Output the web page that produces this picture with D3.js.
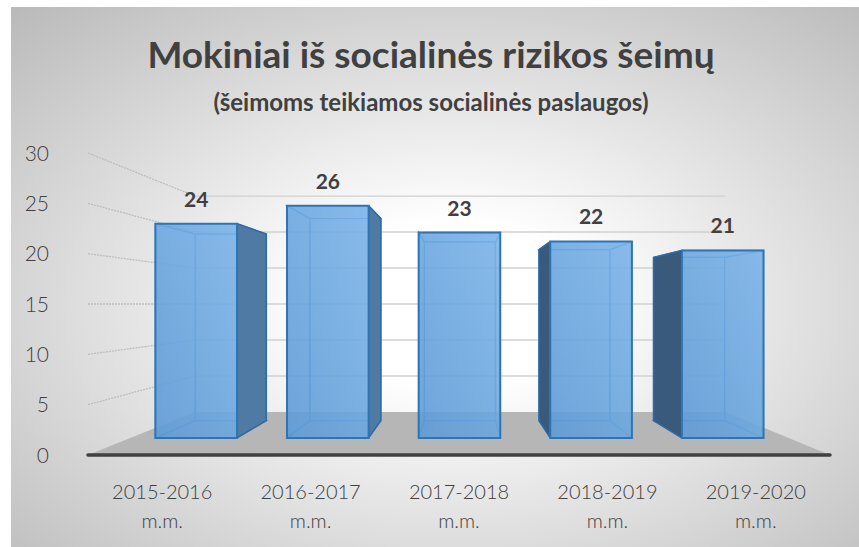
<!DOCTYPE html>
<html>
<head>
<meta charset="utf-8">
<script src="https://cdn.jsdelivr.net/npm/d3@7"></script>
<style>
  body { margin: 0; background: #fff; }
  svg { display: block; }
  text { font-family: Lato, "Open Sans", sans-serif; fill: #404040; }
</style>
</head>
<body>
<div id="chart"></div>
<script>
const categories = ["2015-2016", "2016-2017", "2017-2018", "2018-2019", "2019-2020"];
const categorySuffix = "m.m.";
const values = [24, 26, 23, 22, 21];
const yTicks = [0, 5, 10, 15, 20, 25, 30];
const titleText = "Mokiniai iš socialinės rizikos šeimų";
const subtitleText = "(šeimoms teikiamos socialinės paslaugos)";

const width = 859;
const height = 547;
// perspective: vanishing point and scale factors for each depth plane
const vp = [463, 304];
const sFloorFront = 1;
const sFloorBack = 0.715;
const sBarFront = 0.887;
const sBarBack = 0.772;

const x = d3
  .scaleBand()
  .domain(categories)
  .range([88, 830])
  .paddingInner(0.38)
  .paddingOuter(0.19);
const y = d3.scaleLinear().domain([0, 30]).range([455, 153]);

function project(px, py, s) {
  return [vp[0] + (px - vp[0]) * s, vp[1] + (py - vp[1]) * s];
}
function quad(pts) {
  return "M" + pts.map((p) => project(p[0], p[1], p[2]).join(",")).join("L") + "Z";
}

const svg = d3
  .select("#chart")
  .append("svg")
  .attr("width", width)
  .attr("height", height);

const defs = svg.append("defs");
const bg = defs
  .append("radialGradient")
  .attr("id", "bg")
  .attr("cx", "0.52")
  .attr("cy", "0.55")
  .attr("r", "0.75");
bg.append("stop").attr("offset", 0).attr("stop-color", "#ffffff");
bg.append("stop").attr("offset", 0.2).attr("stop-color", "#ffffff");
bg.append("stop").attr("offset", 1).attr("stop-color", "#bababa");

const front = defs
  .append("linearGradient")
  .attr("id", "front")
  .attr("x1", 0)
  .attr("y1", 1)
  .attr("x2", 1)
  .attr("y2", 0);
front.append("stop").attr("offset", 0).attr("stop-color", "#5d9ad6");
front.append("stop").attr("offset", 1).attr("stop-color", "#7db5ea");

svg
  .append("rect")
  .attr("x", 11)
  .attr("y", 7)
  .attr("width", width - 11)
  .attr("height", height - 7)
  .attr("fill", "url(#bg)");

// titles
svg
  .append("text")
  .attr("x", 431)
  .attr("y", 68)
  .attr("text-anchor", "middle")
  .style("font-size", "37px")
  .style("font-weight", "bold")
  .text(titleText);
svg
  .append("text")
  .attr("x", 431)
  .attr("y", 111)
  .attr("text-anchor", "middle")
  .style("font-size", "24px")
  .style("font-weight", "bold")
  .text(subtitleText);

const [xMin, xMax] = x.range();

// left wall gridlines
svg
  .selectAll(".side-grid")
  .data(yTicks.filter((t) => t > 0))
  .enter()
  .append("line")
  .attr("class", "side-grid")
  .attr("x1", xMin)
  .attr("y1", (d) => y(d))
  .attr("x2", (d) => project(xMin, y(d), sFloorBack)[0])
  .attr("y2", (d) => project(xMin, y(d), sFloorBack)[1])
  .attr("stroke", "#bdbdbd")
  .attr("stroke-width", 1.3)
  .attr("stroke-dasharray", "2,1");

// back wall gridlines
svg
  .selectAll(".back-grid")
  .data(yTicks.filter((t) => t > 0))
  .enter()
  .append("line")
  .attr("class", "back-grid")
  .attr("x1", (d) => project(xMin, y(d), sFloorBack)[0])
  .attr("y1", (d) => project(xMin, y(d), sFloorBack)[1])
  .attr("x2", (d) => project(xMax, y(d), sFloorBack)[0])
  .attr("y2", (d) => project(xMax, y(d), sFloorBack)[1])
  .attr("stroke", "#d0d0d0")
  .attr("stroke-width", 1.3);

// floor
svg
  .append("path")
  .attr(
    "d",
    quad([
      [xMin, y(0), sFloorFront],
      [xMax, y(0), sFloorFront],
      [xMax, y(0), sFloorBack],
      [xMin, y(0), sFloorBack],
    ]),
  )
  .attr("fill", "#b6b6b6");

svg
  .append("line")
  .attr("x1", xMin)
  .attr("x2", xMax)
  .attr("y1", y(0))
  .attr("y2", y(0))
  .attr("stroke", "#404040")
  .attr("stroke-width", 3.5)
  .attr("stroke-linecap", "round");

// y tick labels
svg
  .selectAll(".y-label")
  .data(yTicks)
  .enter()
  .append("text")
  .attr("class", "y-label")
  .attr("x", 49)
  .attr("y", (d) => y(d) + 7.5)
  .attr("text-anchor", "end")
  .style("font-size", "21px")
  .style("font-weight", "300")
  .text((d) => d);

// bars
const bars = categories.map((c, i) => ({ cat: c, value: values[i] }));
const barG = svg
  .selectAll(".bar")
  .data(bars)
  .enter()
  .append("g")
  .attr("class", "bar");

barG.each(function (d) {
  const g = d3.select(this);
  const x0 = x(d.cat);
  const x1 = x0 + x.bandwidth();
  const yt = y(d.value);
  const yb = y(0);

  const back = [[x0, yt, sBarBack], [x1, yt, sBarBack], [x1, yb, sBarBack], [x0, yb, sBarBack]];
  const top = [[x0, yt, sBarFront], [x1, yt, sBarFront], [x1, yt, sBarBack], [x0, yt, sBarBack]];
  const bottom = [[x0, yb, sBarFront], [x1, yb, sBarFront], [x1, yb, sBarBack], [x0, yb, sBarBack]];
  const left = [[x0, yt, sBarFront], [x0, yb, sBarFront], [x0, yb, sBarBack], [x0, yt, sBarBack]];
  const right = [[x1, yt, sBarFront], [x1, yb, sBarFront], [x1, yb, sBarBack], [x1, yt, sBarBack]];
  const face = [[x0, yt, sBarFront], [x1, yt, sBarFront], [x1, yb, sBarFront], [x0, yb, sBarFront]];

  const showLeft = x0 > vp[0];
  const showRight = x1 < vp[0];

  const hidden = [back, bottom, top];
  if (!showLeft) hidden.push(left);
  if (!showRight) hidden.push(right);

  g.selectAll(".inner")
    .data(hidden)
    .enter()
    .append("path")
    .attr("class", "inner")
    .attr("d", quad)
    .attr("fill", "#5b9bd5")
    .attr("fill-opacity", 0.3)
    .attr("stroke", "#4a8fd0")
    .attr("stroke-width", 1.2);

  if (showLeft) {
    g.append("path")
      .attr("d", quad(left))
      .attr("fill", "#3a5a7c")
      .attr("stroke", "#2e6aa6")
      .attr("stroke-width", 1.5)
      .attr("stroke-linejoin", "round");
  }
  if (showRight) {
    g.append("path")
      .attr("d", quad(right))
      .attr("fill", "#4f7aa3")
      .attr("stroke", "#2e6aa6")
      .attr("stroke-width", 1.5)
      .attr("stroke-linejoin", "round");
  }

  g.append("path")
    .attr("d", quad(face))
    .attr("fill", "url(#front)")
    .attr("fill-opacity", 0.85)
    .attr("stroke", "#2e75b6")
    .attr("stroke-width", 2);

  const fc = project((x0 + x1) / 2, yt, sBarFront);
  g.append("text")
    .attr("x", fc[0])
    .attr("y", fc[1] - 17)
    .attr("text-anchor", "middle")
    .style("font-size", "21px")
    .style("font-weight", "bold")
    .text(d.value);
});

// category labels
const catLabels = svg
  .selectAll(".x-label")
  .data(categories)
  .enter()
  .append("text")
  .attr("class", "x-label")
  .attr("text-anchor", "middle")
  .style("font-size", "20px")
  .style("font-weight", "300");
catLabels
  .append("tspan")
  .attr("x", (d) => x(d) + x.bandwidth() / 2)
  .attr("y", 499)
  .text((d) => d);
catLabels
  .append("tspan")
  .attr("x", (d) => x(d) + x.bandwidth() / 2)
  .attr("y", 528)
  .text(categorySuffix);
</script>
</body>
</html>
